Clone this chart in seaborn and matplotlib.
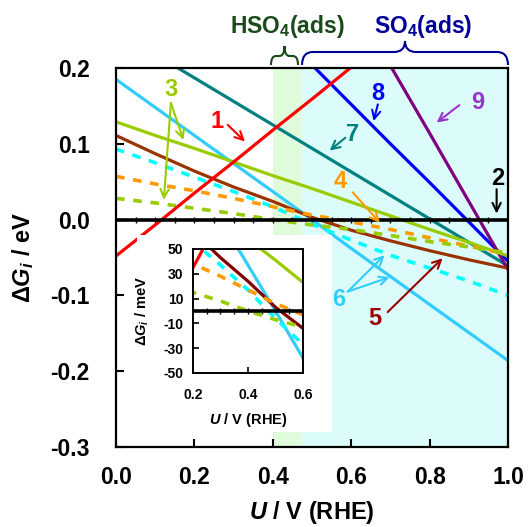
import numpy as np
import pandas as pd
import matplotlib
matplotlib.use("Agg")
import matplotlib.pyplot as plt
import seaborn as sns
from matplotlib.path import Path
from matplotlib.patches import PathPatch, Rectangle

# ---------------- data ----------------
U = [0.0, 0.1, 0.2, 0.3, 0.4, 0.5, 0.6, 0.7, 0.8, 0.9, 1.0]
U_red = [0.0, 0.1, 0.2, 0.3, 0.4, 0.5, 0.6]
U_teal = [0.1, 0.2, 0.3, 0.4, 0.5, 0.6, 0.7, 0.8, 0.9, 1.0]
U_blue = [0.5, 0.6, 0.7, 0.8, 0.9, 1.0]
U_purple = [0.7, 0.8, 0.9, 1.0]
U_zero = [0.0, 1.0]

g1_red = [-0.048, -0.007, 0.035, 0.076, 0.118, 0.159, 0.201]
g2_zero = [0.0, 0.0]
g3_solid = [0.129, 0.111, 0.094, 0.076, 0.058, 0.041, 0.023, 0.005, -0.013, -0.030, -0.048]
g3_dash = [0.028, 0.022, 0.015, 0.008, 0.000, -0.007, -0.013, -0.021, -0.029, -0.036, -0.044]
g4_dash = [0.057, 0.047, 0.038, 0.028, 0.017, 0.006, -0.003, -0.013, -0.024, -0.035, -0.046]
g5_brown = [0.111, 0.087, 0.064, 0.043, 0.024, 0.003, -0.014, -0.028, -0.041, -0.053, -0.064]
g6_solid = [0.185, 0.148, 0.111, 0.074, 0.037, 0.000, -0.038, -0.075, -0.112, -0.149, -0.186]
g6_dash = [0.093, 0.075, 0.056, 0.037, 0.017, -0.006, -0.027, -0.047, -0.064, -0.081, -0.100]
g7_teal = [0.218, 0.187, 0.156, 0.125, 0.094, 0.063, 0.032, 0.001, -0.030, -0.061]
g8_blue = [0.204, 0.152, 0.100, 0.049, -0.003, -0.055]
g9_purple = [0.203, 0.114, 0.024, -0.066]

main_xticks = [0.0, 0.2, 0.4, 0.6, 0.8, 1.0]
main_yticks = [-0.3, -0.2, -0.1, 0.0, 0.1, 0.2]
inset_xticks = [0.2, 0.4, 0.6]
inset_yticks = [-50, -30, -10, 10, 30, 50]

# ---------------- style ----------------
sns.set_style("ticks")
plt.rcParams["font.family"] = ["Liberation Sans", "DejaVu Sans"]
plt.rcParams["font.weight"] = "bold"
plt.rcParams["axes.labelweight"] = "bold"
plt.rcParams["text.color"] = "black"
plt.rcParams["axes.labelcolor"] = "black"
plt.rcParams["xtick.color"] = "black"
plt.rcParams["ytick.color"] = "black"
plt.rcParams["mathtext.fontset"] = "custom"
plt.rcParams["mathtext.rm"] = "Liberation Sans:bold"
plt.rcParams["mathtext.bf"] = "Liberation Sans:bold"
plt.rcParams["mathtext.it"] = "Liberation Sans:italic:bold"

W, H = 531, 527
fig = plt.figure(figsize=(W / 100, H / 100), dpi=100)

def px(x, y):
    return (x / W, 1 - y / H)

ax = fig.add_axes([116 / W, 1 - 447 / H, 392 / W, 379 / H])
ax.set_zorder(0)

DASH = (0, (2.4, 2.4))
series = [
    (U_teal, g7_teal, "#008080", "-", 2.3),
    (U_blue, g8_blue, "#0000ff", "-", 2.3),
    (U_purple, g9_purple, "#800080", "-", 2.3),
    (U, g6_solid, "#33ccff", "-", 2.3),
    (U, g3_solid, "#99cc00", "-", 2.3),
    (U, g5_brown, "#993300", "-", 2.3),
    (U, g6_dash, "#00ffff", DASH, 2.6),
    (U, g4_dash, "#ff9900", DASH, 2.6),
    (U, g3_dash, "#99cc00", DASH, 2.6),
    (U_red, g1_red, "#ff0000", "-", 2.3),
    (U_zero, g2_zero, "#000000", "-", 2.6),
]

def draw_series(a, scale=1.0, inset=False):
    for xs, ys, c, ls, lw in series:
        if inset and c == "#993300":
            c = "#800000"
        df = pd.DataFrame({"U": xs, "G": np.array(ys) * scale})
        sns.lineplot(data=df, x="U", y="G", ax=a, color=c, linestyle=ls,
                     linewidth=lw, sort=True, estimator=None)

# background bands
ax.axvspan(0.4, 0.475, color="#e0fadc", lw=0, zorder=0)
ax.axvspan(0.475, 1.0, color="#dcfcfc", lw=0, zorder=0)

draw_series(ax)
ax.set_xlim(0, 1.0)
ax.set_ylim(-0.3, 0.2)
ax.set_xticks(main_xticks)
ax.set_yticks(main_yticks)
ax.set_xticklabels([f"{v:.1f}" for v in main_xticks])
ax.set_yticklabels([f"{v:.1f}" for v in main_yticks])
ax.tick_params(axis="both", direction="in", length=6, width=1.5,
               labelsize=16.5, top=False, right=False)
ax.tick_params(axis="y", pad=19)
ax.tick_params(axis="x", pad=14)
for s in ax.spines.values():
    s.set_linewidth(1.6)
    s.set_color("black")
ax.set_xlabel(r"$U$ / V (RHE)", fontsize=17, fontweight="bold")
ax.set_ylabel(r"Δ$G_i$ / eV", fontsize=17, fontweight="bold")
ax.xaxis.set_label_coords(0.5, -0.138)
ax.yaxis.set_label_coords(-0.205, 0.5)

# small ticks along zero line
sec = ax.secondary_xaxis(0.6)
sec.set_xticks(np.arange(0.05, 1.0, 0.05))
sec.tick_params(direction="inout", length=5, width=1.0, labelbottom=False,
                labeltop=False)
sec.spines["top"].set_visible(False)
sec.spines["bottom"].set_visible(False)

# annotations
def label(txt, x, y, c):
    ax.text(x, y, txt, color=c, fontsize=17, fontweight="bold",
            ha="center", va="center", clip_on=False, zorder=5)

def arrow(tail, tip, c):
    ax.annotate("", xy=tip, xytext=tail,
                arrowprops=dict(arrowstyle="->", color=c, lw=1.5,
                                shrinkA=0, shrinkB=0, mutation_scale=15),
                zorder=5)

label("1", 0.257, 0.129, "#ff0000")
arrow((0.285, 0.125), (0.329, 0.103), "#ff0000")
label("3", 0.140, 0.171, "#99cc00")
arrow((0.140, 0.154), (0.172, 0.105), "#99cc00")
arrow((0.140, 0.154), (0.122, 0.026), "#99cc00")
label("7", 0.603, 0.112, "#008080")
arrow((0.585, 0.108), (0.545, 0.091), "#008080")
label("8", 0.668, 0.167, "#0000ff")
arrow((0.668, 0.152), (0.657, 0.130), "#0000ff")
label("9", 0.922, 0.154, "#9933cc")
arrow((0.876, 0.151), (0.818, 0.128), "#9933cc")
label("2", 0.973, 0.054, "#000000")
arrow((0.971, 0.040), (0.971, 0.008), "#000000")
label("4", 0.571, 0.050, "#ff9900")
arrow((0.604, 0.036), (0.673, -0.004), "#ff9900")
label("6", 0.568, -0.106, "#33ccff")
arrow((0.591, -0.095), (0.685, -0.047), "#33ccff")
arrow((0.591, -0.095), (0.698, -0.076), "#33ccff")
label("5", 0.660, -0.130, "#990000")
arrow((0.693, -0.122), (0.833, -0.051), "#990000")

# white background of inset
x0, y0 = px(137, 432)
x1, y1 = px(332, 235)
fig.patches.append(Rectangle((x0, y0), x1 - x0, y1 - y0, transform=fig.transFigure,
                             facecolor="white", edgecolor="none", zorder=1))

# inset
ia = fig.add_axes([193 / W, 1 - 373 / H, 110 / W, 124 / H])
ia.set_zorder(2)
ia.set_facecolor("white")
draw_series(ia, scale=1000.0, inset=True)
ia.set_xlim(0.2, 0.6)
ia.set_ylim(-50, 50)
ia.set_xticks(inset_xticks)
ia.set_yticks(inset_yticks)
ia.set_xticklabels([f"{v:.1f}" for v in inset_xticks])
ia.set_yticklabels([f"{v:d}" for v in inset_yticks])
ia.tick_params(axis="both", direction="in", length=4, width=1.2, labelsize=10,
               top=False, right=False)
ia.tick_params(axis="y", pad=7)
ia.tick_params(axis="x", pad=11)
for s in ia.spines.values():
    s.set_linewidth(1.4)
    s.set_color("black")
ia.set_xlabel(r"$U$ / V (RHE)", fontsize=10.5, fontweight="bold")
ia.set_ylabel(r"Δ$G_i$ / meV", fontsize=10.5, fontweight="bold")
ia.xaxis.set_label_coords(0.5, -0.31)
ia.yaxis.set_label_coords(-0.38, 0.5)
isec = ia.secondary_xaxis(0.5)
isec.set_xticks(np.arange(0.25, 0.6, 0.05))
isec.tick_params(direction="inout", length=4, width=1.0, labelbottom=False,
                 labeltop=False)
isec.spines["top"].set_visible(False)
isec.spines["bottom"].set_visible(False)

# top region labels and braces
def brace(xa, xb, yb, ym, yt, r, c):
    xm = (xa + xb) / 2
    pts = [(xa, yb), (xa, ym), (xa + r, ym), (xm - r, ym), (xm, ym), (xm, yt),
           (xm, ym), (xm + r, ym), (xb - r, ym), (xb, ym), (xb, yb)]
    codes = [Path.MOVETO, Path.CURVE3, Path.CURVE3, Path.LINETO, Path.CURVE3,
             Path.CURVE3, Path.CURVE3, Path.CURVE3, Path.LINETO, Path.CURVE3,
             Path.CURVE3]
    p = Path([px(*q) for q in pts], codes)
    fig.patches.append(PathPatch(p, transform=fig.transFigure, facecolor="none",
                                 edgecolor=c, lw=1.5, zorder=3))

brace(271, 298, 65, 56, 46, 5, "#1a4a1a")
brace(302, 508, 65, 52, 41, 11, "#000099")
fig.text(*px(287, 27), r"HSO$_4$(ads)", color="#1a4a1a", fontsize=16.5,
         fontweight="bold", ha="center", va="center")
fig.text(*px(423, 27), r"SO$_4$(ads)", color="#000099", fontsize=16.5,
         fontweight="bold", ha="center", va="center")

fig.savefig("out.png", dpi=100)
